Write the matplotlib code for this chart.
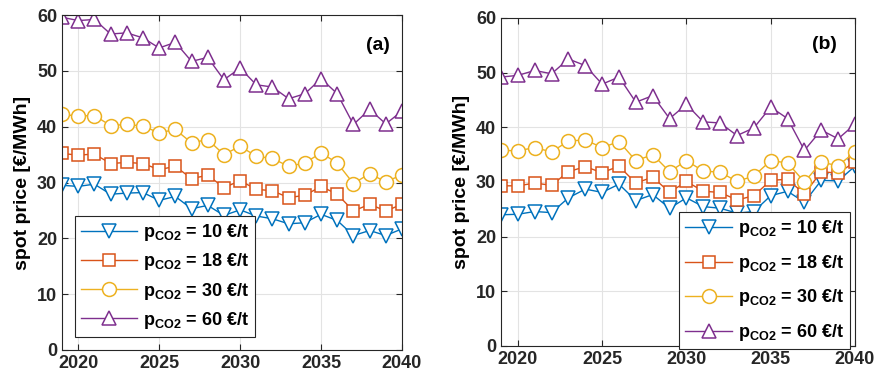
import matplotlib
matplotlib.use("Agg")
import matplotlib.pyplot as plt
import numpy as np

plt.rcParams["font.family"] = ["Liberation Sans", "DejaVu Sans"]
plt.rcParams["font.weight"] = "bold"
plt.rcParams["mathtext.fontset"] = "custom"
plt.rcParams["mathtext.rm"] = "Liberation Sans:bold"
plt.rcParams["mathtext.bf"] = "Liberation Sans:bold"
plt.rcParams["mathtext.it"] = "Liberation Sans:bold"

years = np.arange(2019, 2041)

# panel (a)
a_10 = [29.5, 29.3, 29.7, 27.9, 28.1, 28.2, 26.8, 27.5, 25.3, 25.9, 24.1,
        25.1, 24.0, 23.5, 22.6, 22.8, 24.3, 23.2, 20.5, 21.4, 20.5, 21.7]
a_18 = [35.2, 34.9, 35.1, 33.4, 33.6, 33.4, 32.3, 32.9, 30.7, 31.3, 29.1,
        30.3, 28.8, 28.5, 27.3, 27.7, 29.3, 27.9, 24.9, 26.1, 24.9, 26.1]
a_30 = [42.2, 41.9, 42.0, 40.2, 40.4, 40.1, 38.9, 39.5, 37.1, 37.7, 35.0,
        36.5, 34.7, 34.3, 32.9, 33.5, 35.3, 33.5, 29.8, 31.6, 30.1, 31.4]
a_60 = [59.6, 59.0, 59.2, 56.6, 56.8, 55.9, 54.1, 55.1, 51.7, 52.4, 48.4,
        50.5, 47.5, 47.1, 45.0, 45.9, 48.6, 45.9, 40.4, 43.1, 40.5, 42.8]

# panel (b)
b_10 = [24.0, 24.1, 24.6, 24.4, 27.1, 28.7, 28.1, 29.6, 26.6, 27.7, 25.2,
        27.1, 25.5, 25.2, 24.3, 24.6, 27.5, 28.3, 26.3, 30.3, 30.2, 32.9]
b_18 = [29.3, 29.3, 29.8, 29.4, 31.9, 32.8, 31.7, 32.9, 29.8, 30.9, 28.1,
        30.1, 28.3, 28.1, 26.7, 27.5, 30.3, 30.5, 27.8, 31.9, 31.6, 33.7]
b_30 = [35.8, 35.7, 36.3, 35.5, 37.5, 37.7, 36.3, 37.4, 33.9, 35.0, 31.9,
        33.9, 32.0, 31.8, 30.1, 31.1, 33.9, 33.5, 30.0, 33.6, 33.0, 35.5]
b_60 = [49.2, 49.5, 50.4, 49.8, 52.5, 51.3, 47.9, 49.2, 44.6, 45.8, 41.6,
        44.2, 41.0, 40.8, 38.5, 39.9, 43.7, 41.6, 35.8, 39.5, 37.9, 40.6]

prices = ["10", "18", "30", "60"]
colors = ["#0072BD", "#D95319", "#EDB120", "#7E2F8E"]
markers = ["v", "s", "o", "^"]
msizes = [10, 8, 10, 10]


def draw_panel(ax, series, tag, leg_anchor, handle_len, spacing):
    for vals, p, c, m, ms in zip(series, prices, colors, markers, msizes):
        ax.plot(years, vals, color=c, marker=m, markersize=ms, lw=1,
                markerfacecolor="white", markeredgewidth=1.1,
                label=r"$\mathregular{p_{CO2}}$ = " + p + " €/t")
    ax.set_xlim(2019, 2040)
    ax.set_ylim(0, 60)
    ax.set_xticks([2020, 2025, 2030, 2035, 2040])
    ax.set_yticks([0, 10, 20, 30, 40, 50, 60])
    ax.grid(True, color="#e3e3e3", lw=0.8)
    ax.set_axisbelow(True)
    ax.tick_params(direction="in", top=True, right=True, labelsize=13,
                   colors="#262626", length=4)
    for s in ax.spines.values():
        s.set_color("#262626")
        s.set_linewidth(0.8)
    ax.text(*tag[1], tag[0], transform=ax.transAxes, fontsize=14,
            fontweight="bold", ha="center", va="center")
    leg = ax.legend(loc="upper left", bbox_to_anchor=leg_anchor,
                    borderaxespad=0, fontsize=13, handlelength=handle_len,
                    fancybox=False, edgecolor="#262626", framealpha=1,
                    labelspacing=spacing, borderpad=0.35, handletextpad=0.3)
    leg.get_frame().set_linewidth(0.8)
    ax.set_ylabel("spot price [€/MWh]", fontsize=14, fontweight="bold",
                  labelpad=4)


fig = plt.figure(figsize=(8.85, 3.84), dpi=100)
ax1 = fig.add_axes([62 / 885, 1 - 350 / 384, 340 / 885, 335 / 384])
ax2 = fig.add_axes([501 / 885, 1 - 346 / 384, 354 / 885, 328 / 384])

draw_panel(ax1, [a_10, a_18, a_30, a_60], ("(a)", (0.93, 0.91)),
           (0.038, 0.40), 3.1, 0.45)
draw_panel(ax2, [b_10, b_18, b_30, b_60], ("(b)", (0.915, 0.918)),
           (0.503, 0.4085), 2.6, 0.75)

fig.savefig("out.png", dpi=100)
